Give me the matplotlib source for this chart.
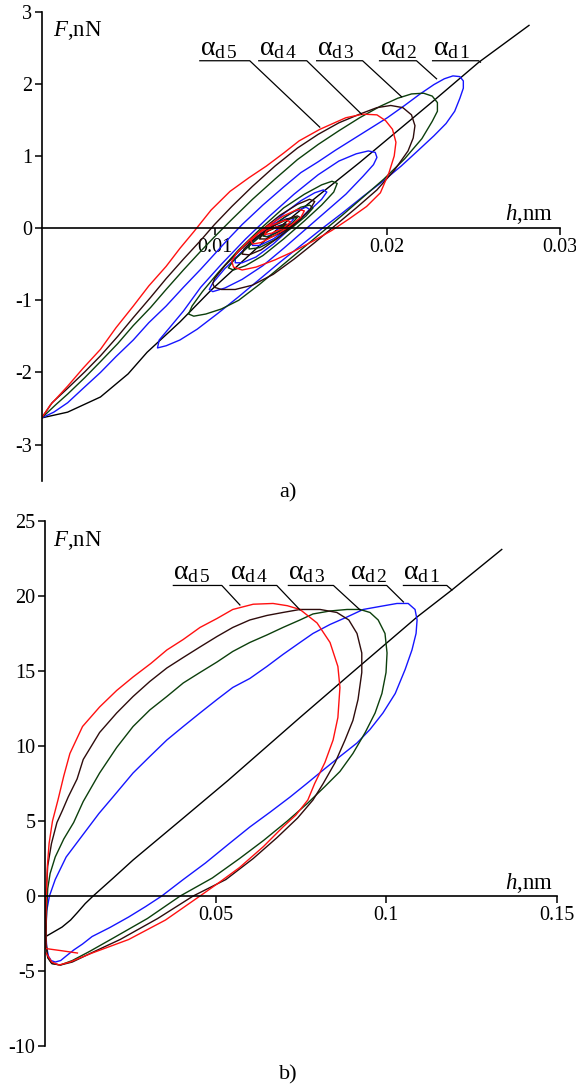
import numpy as np
import matplotlib.pyplot as plt

plt.rcParams['font.family'] = ['Liberation Serif', 'DejaVu Serif']
plt.rcParams['mathtext.fontset'] = 'custom'
plt.rcParams['mathtext.rm'] = 'Liberation Serif'
plt.rcParams['mathtext.it'] = 'Liberation Serif:italic'
plt.rcParams['axes.unicode_minus'] = False

# ---------- panel a): h (nm), F (nN) ----------
a_d1 = np.array([(0, -2.63), (0.0015, -2.55), (0.0034, -2.34), (0.0050, -2.02), (0.0061, -1.72),
                 (0.0080, -1.30), (0.0098, -0.86), (0.0118, -0.42), (0.0137, 0.0), (0.0160, 0.45),
                 (0.0184, 0.91), (0.0206, 1.35), (0.0228, 1.79), (0.0253, 2.30), (0.0282, 2.81)])

a_d2 = np.array([
    (0, -2.63), (0.0007, -2.55), (0.0015, -2.42), (0.0024, -2.22), (0.0034, -2.0), (0.0043, -1.78),
    (0.0053, -1.55), (0.0062, -1.31), (0.0072, -1.08), (0.0082, -0.82), (0.0092, -0.57), (0.0100, -0.36),
    (0.0108, -0.15), (0.0116, 0.05), (0.0128, 0.32), (0.0140, 0.57), (0.0150, 0.77), (0.0160, 0.92),
    (0.0170, 1.08), (0.0180, 1.23), (0.0190, 1.38), (0.0200, 1.53), (0.0210, 1.70), (0.0219, 1.86),
    (0.0227, 1.99), (0.0233, 2.07), (0.0238, 2.11), (0.0242, 2.10), (0.0244, 2.04), (0.0244, 1.94),
    (0.0242, 1.80),
    (0.0239, 1.62), (0.0234, 1.45), (0.0227, 1.28), (0.0218, 1.08), (0.0208, 0.86), (0.0198, 0.66),
    (0.0186, 0.44), (0.0174, 0.21), (0.0162, -0.01), (0.0150, -0.24), (0.0138, -0.47), (0.0126, -0.71),
    (0.0114, -0.95), (0.0102, -1.18), (0.0090, -1.40), (0.0080, -1.55), (0.0072, -1.63), (0.0067, -1.66),
    (0.0068, -1.55), (0.0074, -1.38), (0.0082, -1.15), (0.0092, -0.82), (0.0104, -0.50), (0.0118, -0.15),
    (0.0132, 0.17), (0.0146, 0.47), (0.0160, 0.74), (0.0172, 0.93), (0.0182, 1.03), (0.0189, 1.07),
    (0.0193, 1.05), (0.0194, 0.98),
    (0.0192, 0.88), (0.0186, 0.72), (0.0176, 0.47), (0.0164, 0.22), (0.0152, -0.03), (0.0140, -0.28),
    (0.0128, -0.52), (0.0116, -0.71), (0.0106, -0.83), (0.0099, -0.88), (0.0097, -0.85),
    (0.0099, -0.76), (0.0106, -0.56), (0.0116, -0.33), (0.0128, -0.06), (0.0140, 0.20), (0.0150, 0.38),
    (0.0158, 0.49), (0.0163, 0.53), (0.0165, 0.50),
    (0.0162, 0.40), (0.0154, 0.22), (0.0144, 0.0), (0.0134, -0.22), (0.0124, -0.40), (0.0116, -0.48),
    (0.0112, -0.48), (0.0112, -0.42),
    (0.0117, -0.30), (0.0126, -0.12), (0.0136, 0.08), (0.0146, 0.23), (0.0153, 0.29), (0.0155, 0.26),
    (0.0151, 0.16), (0.0143, 0.0), (0.0134, -0.15), (0.0126, -0.24), (0.0122, -0.24), (0.0122, -0.18),
    (0.0127, -0.07), (0.0135, 0.06), (0.0142, 0.13), (0.0146, 0.13),
    (0.0143, 0.05), (0.0136, -0.06), (0.0130, -0.12), (0.0128, -0.09), (0.0132, -0.02), (0.0138, 0.04),
    (0.0141, 0.05), (0.0139, 0.01), (0.0136, -0.02), (0.0137, 0.0)])

a_d3 = np.array([
    (0, -2.63), (0.0008, -2.45), (0.0015, -2.30), (0.0025, -2.07), (0.0034, -1.85), (0.0044, -1.60),
    (0.0053, -1.35), (0.0063, -1.10), (0.0072, -0.85), (0.0082, -0.58), (0.0092, -0.32), (0.0100, -0.12),
    (0.0110, 0.12), (0.0122, 0.40), (0.0135, 0.68), (0.0148, 0.95), (0.0160, 1.16), (0.0172, 1.35),
    (0.0184, 1.53), (0.0196, 1.69), (0.0206, 1.80), (0.0214, 1.86), (0.0221, 1.87), (0.0226, 1.83),
    (0.0229, 1.74), (0.0229, 1.62),
    (0.0226, 1.48), (0.0220, 1.24), (0.0210, 0.96), (0.0198, 0.68), (0.0186, 0.43), (0.0174, 0.18),
    (0.0162, -0.06), (0.0150, -0.30), (0.0138, -0.54), (0.0126, -0.78), (0.0114, -1.00), (0.0104, -1.12),
    (0.0095, -1.19), (0.0088, -1.22), (0.0085, -1.19),
    (0.0087, -1.08), (0.0093, -0.88), (0.0102, -0.62), (0.0114, -0.30), (0.0127, 0.0), (0.0140, 0.28),
    (0.0152, 0.47), (0.0162, 0.60), (0.0168, 0.65), (0.0171, 0.62),
    (0.0169, 0.50), (0.0162, 0.32), (0.0152, 0.10), (0.0140, -0.15), (0.0128, -0.38), (0.0118, -0.52),
    (0.0111, -0.58), (0.0108, -0.55),
    (0.0111, -0.45), (0.0119, -0.27), (0.0130, -0.04), (0.0141, 0.16), (0.0150, 0.29), (0.0155, 0.32),
    (0.0157, 0.28),
    (0.0153, 0.17), (0.0145, 0.01), (0.0135, -0.16), (0.0126, -0.27), (0.0120, -0.29), (0.0120, -0.22),
    (0.0125, -0.11), (0.0134, 0.03), (0.0143, 0.13), (0.0148, 0.15),
    (0.0145, 0.07), (0.0138, -0.04), (0.0131, -0.12), (0.0128, -0.11), (0.0131, -0.04), (0.0137, 0.02),
    (0.0141, 0.04), (0.0137, 0.0)])

a_d4 = np.array([
    (0, -2.63), (0.0006, -2.42), (0.0015, -2.22), (0.0025, -1.99), (0.0034, -1.77), (0.0044, -1.50),
    (0.0053, -1.24), (0.0063, -0.96), (0.0072, -0.70), (0.0082, -0.43), (0.0092, -0.17), (0.0100, 0.05),
    (0.0110, 0.30), (0.0122, 0.58), (0.0135, 0.86), (0.0148, 1.11), (0.0160, 1.30), (0.0172, 1.46),
    (0.0184, 1.58), (0.0194, 1.67), (0.0202, 1.70), (0.0209, 1.67), (0.0214, 1.57), (0.0216, 1.42),
    (0.0215, 1.25),
    (0.0212, 1.07), (0.0204, 0.80), (0.0194, 0.53), (0.0182, 0.28), (0.0170, 0.04), (0.0158, -0.20),
    (0.0146, -0.43), (0.0134, -0.64), (0.0122, -0.79), (0.0112, -0.85), (0.0104, -0.85), (0.0100, -0.82),
    (0.0099, -0.77),
    (0.0100, -0.70), (0.0106, -0.52), (0.0115, -0.30), (0.0126, -0.05), (0.0138, 0.18), (0.0148, 0.33),
    (0.0155, 0.40), (0.0158, 0.37),
    (0.0155, 0.25), (0.0147, 0.07), (0.0137, -0.13), (0.0127, -0.30), (0.0120, -0.37), (0.0116, -0.36),
    (0.0117, -0.29),
    (0.0122, -0.17), (0.0131, -0.01), (0.0141, 0.12), (0.0148, 0.17), (0.0150, 0.14),
    (0.0146, 0.05), (0.0138, -0.07), (0.0130, -0.15), (0.0126, -0.15), (0.0128, -0.08), (0.0134, 0.0),
    (0.0141, 0.06), (0.0143, 0.04), (0.0138, -0.01), (0.0137, 0.0)])

a_d5 = np.array([
    (0, -2.63), (0.0005, -2.45), (0.0015, -2.19), (0.0024, -1.94), (0.0034, -1.68), (0.0043, -1.38),
    (0.0053, -1.08), (0.0062, -0.80), (0.0072, -0.53), (0.0080, -0.28), (0.0088, -0.05), (0.0098, 0.25),
    (0.0109, 0.51), (0.0120, 0.70), (0.0130, 0.86), (0.0140, 1.04), (0.0149, 1.21), (0.0161, 1.37),
    (0.0176, 1.53), (0.0186, 1.58), (0.0194, 1.57), (0.0199, 1.49), (0.0203, 1.37), (0.0205, 1.19),
    (0.0204, 1.00), (0.0201, 0.77), (0.0196, 0.49),
    (0.0188, 0.30), (0.0178, 0.13), (0.0168, -0.03), (0.0157, -0.18), (0.0146, -0.32), (0.0135, -0.44),
    (0.0124, -0.54), (0.0116, -0.58), (0.0111, -0.54), (0.0110, -0.46),
    (0.0113, -0.34), (0.0120, -0.17), (0.0130, 0.02), (0.0140, 0.17), (0.0148, 0.26), (0.0152, 0.24),
    (0.0150, 0.15), (0.0143, 0.02), (0.0135, -0.10), (0.0127, -0.20), (0.0122, -0.22), (0.0121, -0.17),
    (0.0125, -0.08), (0.0133, 0.04), (0.0141, 0.11), (0.0144, 0.09),
    (0.0140, 0.0), (0.0133, -0.07), (0.0129, -0.09), (0.0130, -0.04), (0.0136, 0.02), (0.0138, 0.01),
    (0.0137, 0.0)])

# ---------- panel b) ----------
b_d1 = np.array([(0, -2.73), (0.0025, -2.4), (0.0050, -2.07), (0.0075, -1.6), (0.0095, -1.1),
                 (0.0118, -0.5), (0.0141, 0.0), (0.0200, 1.2), (0.0258, 2.4), (0.0400, 5.1),
                 (0.0536, 7.7), (0.0747, 11.9), (0.0900, 14.9), (0.1090, 18.6), (0.1192, 20.4),
                 (0.1338, 23.1)])

b_d2 = np.array([
    (0.0003, -2.2), (0.0005, -1.0), (0.0013, 0.0), (0.0030, 1.1), (0.0062, 2.6), (0.0105, 3.9),
    (0.0158, 5.5), (0.0199, 6.6), (0.0258, 8.2), (0.0307, 9.3), (0.0357, 10.4), (0.0405, 11.3),
    (0.0454, 12.2), (0.0504, 13.1), (0.0550, 13.9), (0.0600, 14.5), (0.0650, 15.3), (0.0697, 16.1),
    (0.0747, 16.9), (0.0785, 17.5), (0.0835, 18.1), (0.0885, 18.6), (0.0932, 19.1), (0.0981, 19.3),
    (0.1031, 19.5), (0.1064, 19.5), (0.1084, 19.1), (0.1090, 18.4), (0.1087, 17.5), (0.1075, 16.4),
    (0.1055, 15.1), (0.1026, 13.5), (0.0990, 12.2), (0.0952, 11.1), (0.0914, 10.2), (0.0864, 9.3),
    (0.0815, 8.4), (0.0767, 7.5), (0.0718, 6.6), (0.0660, 5.6), (0.0600, 4.6), (0.0540, 3.5),
    (0.0470, 2.2), (0.0405, 1.1), (0.0342, 0.0), (0.0295, -0.7), (0.0245, -1.4), (0.0190, -2.1),
    (0.0138, -2.7), (0.0110, -3.2), (0.0084, -3.6), (0.0062, -4.0), (0.0046, -4.3), (0.0030, -4.4),
    (0.0018, -4.3), (0.0010, -4.0), (0.0005, -3.4), (0.0003, -2.6)])

b_d3 = np.array([
    (0.0003, -3.0), (0.0004, -1.5), (0.0008, 0.5), (0.0015, 1.5), (0.0030, 2.6), (0.0055, 3.8),
    (0.0084, 4.9), (0.0112, 6.3), (0.0160, 8.2), (0.0210, 9.9), (0.0258, 11.3), (0.0307, 12.4),
    (0.0357, 13.3), (0.0405, 14.2), (0.0454, 14.9), (0.0504, 15.6), (0.0550, 16.3), (0.0600, 16.9),
    (0.0650, 17.4), (0.0697, 17.9), (0.0747, 18.4), (0.0785, 18.8), (0.0835, 19.0), (0.0885, 19.1),
    (0.0923, 19.1), (0.0952, 18.9), (0.0976, 18.4), (0.0996, 17.5), (0.1002, 16.2), (0.0999, 14.9),
    (0.0987, 13.5), (0.0967, 12.2), (0.0938, 10.9), (0.0902, 9.5), (0.0864, 8.3), (0.0820, 7.3),
    (0.0770, 6.2), (0.0710, 5.0), (0.0640, 3.7), (0.0570, 2.5), (0.0490, 1.2), (0.0396, 0.0),
    (0.0300, -1.5), (0.0200, -2.8), (0.0130, -3.7), (0.0080, -4.3), (0.0045, -4.6), (0.0020, -4.5),
    (0.0008, -4.1), (0.0003, -3.2)])

b_d4 = np.array([
    (0.0003, -3.0), (0.0003, 0.0), (0.0008, 2.0), (0.0019, 3.5), (0.0035, 4.9), (0.0051, 5.7),
    (0.0068, 6.6), (0.0094, 7.8), (0.0112, 9.1), (0.0160, 10.9), (0.0210, 12.2), (0.0258, 13.3),
    (0.0307, 14.3), (0.0357, 15.2), (0.0405, 15.9), (0.0454, 16.6), (0.0504, 17.3), (0.0550, 17.9),
    (0.0600, 18.4), (0.0650, 18.7), (0.0697, 18.9), (0.0747, 19.1), (0.0806, 19.1), (0.0855, 18.9),
    (0.0890, 18.4), (0.0914, 17.5), (0.0928, 16.2), (0.0928, 14.9), (0.0917, 13.1), (0.0902, 11.7),
    (0.0879, 10.4), (0.0850, 8.9), (0.0815, 7.5), (0.0785, 6.4), (0.0740, 5.2), (0.0680, 3.9),
    (0.0610, 2.5), (0.0530, 1.1), (0.0434, 0.0), (0.0330, -1.5), (0.0220, -2.9), (0.0135, -3.8),
    (0.0080, -4.4), (0.0045, -4.6), (0.0020, -4.5), (0.0008, -4.1), (0.0003, -3.0)])

b_d5 = np.array([
    (0.0095, -3.8), (0.0050, -3.65), (0.0002, -3.5), (0.0002, -2.0), (0.0004, 0.0), (0.0007, 2.0),
    (0.0012, 3.5), (0.0022, 5.0), (0.0038, 6.4), (0.0055, 8.0), (0.0073, 9.5), (0.0110, 11.3),
    (0.0160, 12.6), (0.0210, 13.7), (0.0258, 14.6), (0.0310, 15.5), (0.0357, 16.4), (0.0405, 17.1),
    (0.0454, 17.9), (0.0504, 18.5), (0.0550, 19.1), (0.0610, 19.45), (0.0668, 19.5), (0.0710, 19.35),
    (0.0747, 19.1), (0.0797, 18.2), (0.0835, 16.9), (0.0858, 15.3), (0.0864, 13.9), (0.0858, 11.9),
    (0.0844, 10.4), (0.0820, 8.9), (0.0790, 7.5), (0.0770, 6.4), (0.0735, 5.4), (0.0697, 4.6),
    (0.0640, 3.3), (0.0570, 1.9), (0.0510, 0.9), (0.0454, 0.0), (0.0353, -1.6), (0.0245, -2.9),
    (0.0138, -3.8), (0.0073, -4.4), (0.0041, -4.6), (0.0020, -4.4), (0.0003, -3.8)])

labels = [r'$\mathrm{\alpha}_{\mathrm{d\,1}}$', r'$\mathrm{\alpha}_{\mathrm{d\,2}}$',
          r'$\mathrm{\alpha}_{\mathrm{d\,3}}$', r'$\mathrm{\alpha}_{\mathrm{d\,4}}$',
          r'$\mathrm{\alpha}_{\mathrm{d\,5}}$']
colors = ['black', '#1515ff', '#0c3f0c', '#2e0c0c', '#ff1010']

fig = plt.figure(figsize=(5.76, 10.91), dpi=100)
ax_a = fig.add_axes([0.0724, 0.5594, 0.900, 0.4299])
ax_b = fig.add_axes([0.0781, 0.0412, 0.889, 0.4813])


def style_axes(ax, xlim, ylim, xticks, xlabels, yticks):
    ax.set_xlim(xlim)
    ax.set_ylim(ylim)
    ax.spines['top'].set_visible(False)
    ax.spines['right'].set_visible(False)
    ax.spines['bottom'].set_position(('data', 0))
    for s in ('left', 'bottom'):
        ax.spines[s].set_linewidth(1.2)
    ax.set_xticks(xticks)
    ax.set_xticklabels(xlabels)
    ax.set_yticks(yticks)
    ax.tick_params(direction='out', length=5, width=1.1, labelsize=14.5, pad=2)
    ax.patch.set_alpha(0)


def leaders(ax, items, y_line, dy):
    for lab, (x0, x1, xt, yt) in zip(labels, items):
        ax.plot([x0, x1, xt], [y_line, y_line, yt], color='black', lw=0.9, clip_on=False)
        ax.text(x0, y_line + dy, lab, fontsize=20, ha='left', va='bottom')


# panel a
for data, c in zip([a_d1, a_d2, a_d3, a_d4, a_d5], colors):
    ax_a.plot(data[:, 0], data[:, 1], color=c, lw=1.0)
style_axes(ax_a, (0, 0.03), (-3.5, 3), [0.01, 0.02, 0.03], ['0.01', '0.02', '0.03'], range(-3, 4))
leaders(ax_a, [(0.02262, 0.02528, 0.02539, 2.30), (0.01955, 0.02169, 0.02285, 2.07),
               (0.01591, 0.01857, 0.02083, 1.82), (0.01256, 0.01534, 0.01851, 1.58),
               (0.00915, 0.01204, 0.01609, 1.40)], 2.32, 0.0)
ax_a.text(0.00065, 2.66, r'$\mathit{F}$,nN', fontsize=16.5, ha='left', va='baseline')
ax_a.text(0.0296, 0.107, r'$\mathit{h}$,nm', fontsize=16.5, ha='right', va='baseline')

# panel b
for data, c in zip([b_d1, b_d2, b_d3, b_d4, b_d5], colors):
    ax_b.plot(data[:, 0], data[:, 1], color=c, lw=1.0)
style_axes(ax_b, (0, 0.15), (-10, 25), [0.05, 0.1, 0.15], ['0.05', '0.1', '0.15'], range(-10, 26, 5))
leaders(ax_b, [(0.1050, 0.1177, 0.1192, 20.4), (0.0893, 0.1001, 0.1050, 19.6),
               (0.0713, 0.0845, 0.0923, 19.07), (0.0542, 0.0679, 0.0747, 19.07),
               (0.0376, 0.0518, 0.0571, 19.4)], 20.7, 0.0)
ax_b.text(0.0023, 23.3, r'$\mathit{F}$,nN', fontsize=16.5, ha='left', va='baseline')
ax_b.text(0.1488, 0.47, r'$\mathit{h}$,nm', fontsize=16.5, ha='right', va='baseline')

fig.text(0.5, 1 - 493 / 1091, 'a)', ha='center', va='center', fontsize=16)
fig.text(0.5, 1 - 1075 / 1091, 'b)', ha='center', va='center', fontsize=16)

fig.savefig('out.png', dpi=100, facecolor='white')
